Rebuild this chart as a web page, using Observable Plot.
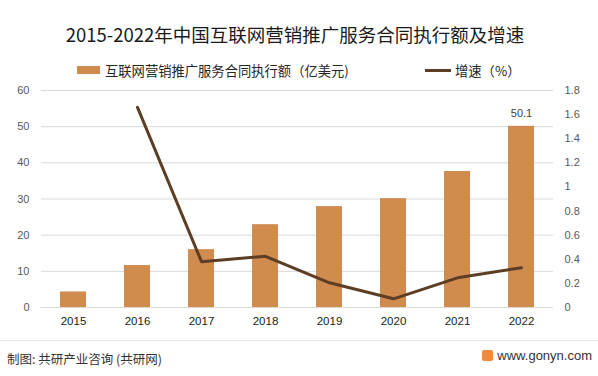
<!DOCTYPE html>
<html><head><meta charset="utf-8">
<script src="https://cdn.jsdelivr.net/npm/d3@7"></script>
<script src="https://cdn.jsdelivr.net/npm/@observablehq/plot@0.6"></script>
<style>
html,body{margin:0;padding:0;background:#fff;}
#wrap{position:relative;width:598px;height:376px;overflow:hidden;font-family:"Noto Sans CJK SC","Noto Sans",sans-serif;}
#title{position:absolute;left:0;top:21px;width:590px;text-align:center;font-size:18.5px;color:#1a1a1a;}
#legend{position:absolute;top:60px;left:0;width:598px;height:20px;font-size:13.3px;color:#262626;}
.lg{position:absolute;top:0;display:flex;align-items:center;height:20px;}
.sw1{width:23px;height:8px;background:#D08B4F;margin-right:5px;}
.sw2{width:26px;height:3px;background:#5C3E24;margin-right:4px;}
#chart{position:absolute;left:0;top:80px;}
#foot{position:absolute;left:0;top:340px;width:598px;height:36px;border-top:1px solid #e6e6e6;font-size:12.5px;color:#333;}
#src{position:absolute;left:7px;top:8px;}
#site{position:absolute;right:6px;top:7px;display:flex;align-items:center;font-family:"Liberation Sans",Arial,sans-serif;font-size:13px;color:#333;}
.logo{width:11px;height:11px;background:#f08a3c;margin-right:4px;border-radius:2px;}
</style></head>
<body><div id="wrap">
<div id="title">2015-2022年中国互联网营销推广服务合同执行额及增速</div>
<div id="legend">
 <div class="lg" style="left:77px"><div class="sw1"></div><span>互联网营销推广服务合同执行额（亿美元)</span></div>
 <div class="lg" style="left:425px"><div class="sw2"></div><span>增速（%）</span></div>
</div>
<div id="chart"></div>
<div id="foot"><div id="src">制图: 共研产业咨询 (共研网)</div><div id="site"><div class="logo"></div>www.gonyn.com</div></div>
</div>
<script>
const years = ["2015","2016","2017","2018","2019","2020","2021","2022"];
const amounts = [4.3, 11.6, 16.0, 22.9, 27.9, 30.1, 37.6, 50.1];
const growthYears = ["2016","2017","2018","2019","2020","2021","2022"];
const growth = [1.66, 0.38, 0.425, 0.205, 0.072, 0.246, 0.33];
const leftTicks = [0,10,20,30,40,50,60];
const rightTicks = [0,0.2,0.4,0.6,0.8,1,1.2,1.4,1.6,1.8];
const labelYear = "2022", labelText = "50.1";

const yMax = 60, rMax = 1.8, k = yMax / rMax;
const bars = years.map((y,i)=>({year:y, v:amounts[i]}));
const line = growthYears.map((y,i)=>({year:y, g:growth[i]*k}));

const font = "'Liberation Sans', Arial, sans-serif";
const plot = Plot.plot({
  width: 598, height: 252,
  marginTop: 10, marginBottom: 25, marginLeft: 41, marginRight: 45,
  style: {fontFamily: font, fontSize: "11px", color: "#595959", background: "transparent"},
  x: {domain: years, paddingInner: 0.6, paddingOuter: 0.3, label: null},
  y: {domain: [0, yMax], label: null},
  marks: [
    Plot.ruleY(leftTicks, {stroke: "#d9d9d9", strokeWidth: 1}),
    Plot.axisY(leftTicks, {anchor: "left", tickSize: 0, tickPadding: 12, label: null, fontSize: 11}),
    Plot.axisY(rightTicks.map(d=>d*k), {anchor: "right", tickSize: 0, tickPadding: 11, label: null, tickFormat: d => String(+(d/k).toFixed(1)), textAnchor: "start"}),
    Plot.axisX({tickSize: 0, tickPadding: 9, label: null, fill: "#1a1a1a", fontSize: 11.5}),
    Plot.barY(bars, {x: "year", y: "v", fill: "#D08B4F"}),
    Plot.line(line, {x: "year", y: "g", stroke: "#5C3E24", strokeWidth: 3}),
    Plot.text(bars.filter(d=>d.year===labelYear), {x: "year", y: "v", text: d=>labelText, dy: -13, fill: "#404040", fontSize: 11})
  ]
});
document.getElementById("chart").appendChild(plot);
</script>
</body></html>
